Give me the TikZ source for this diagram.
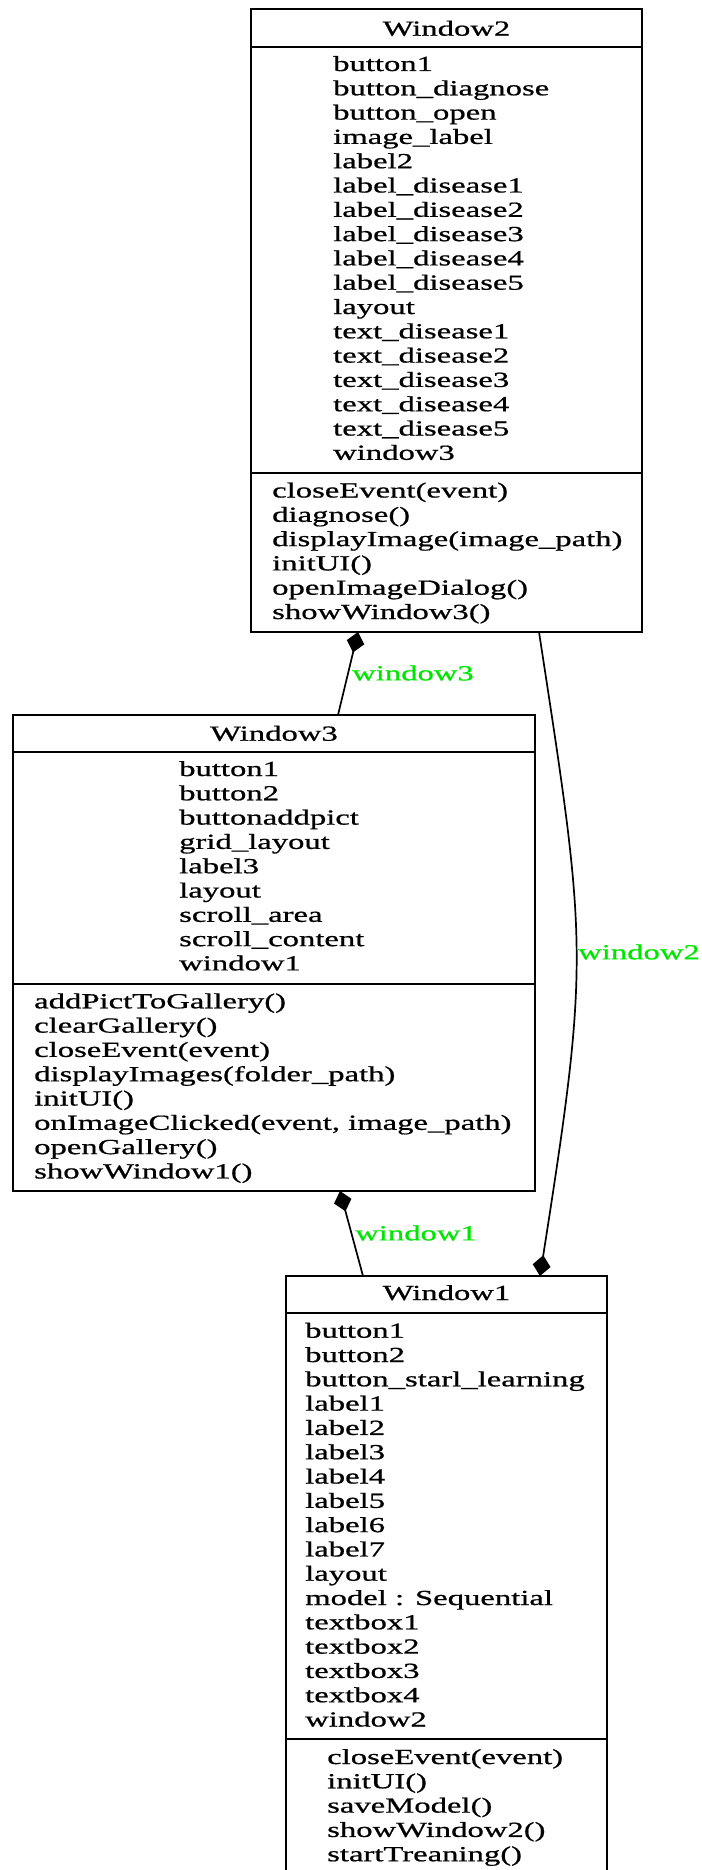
\documentclass[tikz,border=0pt]{standalone}
\usepackage{fontspec}
\newfontfamily\umlface[FakeStretch=1.52,FakeBold=0.8]{Liberation Serif}
\newcommand{\umltext}{\umlface\fontsize{21.5}{24.3}\selectfont}
\usetikzlibrary{arrows.meta,calc}
\definecolor{rolegreen}{RGB}{0,230,0}
\tikzset{owner/.tip={Diamond[length=21pt,width=18pt]}}
\begin{document}
\begin{tikzpicture}[x=1pt,y=-1pt,
  classbox/.style={draw, line width=1.9pt, inner sep=0pt, outer sep=0pt, anchor=north west},
  sepline/.style={line width=1.5pt},
  member/.style={anchor=base west, inner sep=0pt, font=\umltext},
  classname/.style={anchor=base, inner sep=0pt, font=\umltext},
  rolelabel/.style={anchor=west, inner sep=0pt, text=rolegreen, font=\umltext},
  assoc/.style={line width=1.7pt}
]
\useasboundingbox (0,0) rectangle (701,1870);

% ---------- Window2 ----------
\node[classbox, minimum width=391pt, minimum height=623pt] (w2) at (251,9) {};
\draw[sepline] ($(w2.north west)+(0,38)$) -- ($(w2.north east)+(0,38)$);
\draw[sepline] ($(w2.north west)+(0,464)$) -- ($(w2.north east)+(0,464)$);
\node[classname] (w2title) at (446.5,35.7) {Window2};
\foreach \m [count=\i] in {button1, button\_diagnose, button\_open, image\_label, label2,
    label\_disease1, label\_disease2, label\_disease3, label\_disease4, label\_disease5,
    layout, text\_disease1, text\_disease2, text\_disease3, text\_disease4, text\_disease5, window3}
  \node[member] (w2a\i) at (333,{46.7+24.3*\i}) {\m};
\foreach \m [count=\i] in {closeEvent(event), diagnose(), displayImage(image\_path),
    initUI(), openImageDialog(), showWindow3()}
  \node[member] (w2m\i) at (272,{473.2+24.3*\i}) {\m};

% ---------- Window3 ----------
\node[classbox, minimum width=522pt, minimum height=476pt] (w3) at (13,715) {};
\draw[sepline] ($(w3.north west)+(0,37)$) -- ($(w3.north east)+(0,37)$);
\draw[sepline] ($(w3.north west)+(0,269)$) -- ($(w3.north east)+(0,269)$);
\node[classname] (w3title) at (274,740.7) {Window3};
\foreach \m [count=\i] in {button1, button2, buttonaddpict, grid\_layout, label3, layout,
    scroll\_area, scroll\_content, window1}
  \node[member] (w3a\i) at (179,{751.7+24.3*\i}) {\m};
\foreach \m [count=\i] in {addPictToGallery(), clearGallery(), closeEvent(event),
    displayImages(folder\_path), initUI(), {onImageClicked(event, image\_path)},
    openGallery(), showWindow1()}
  \node[member] (w3m\i) at (34,{984+24.3*\i}) {\m};

% ---------- Window1 ----------
\node[classbox, minimum width=321pt, minimum height=610pt] (w1) at (286,1276) {};
\draw[sepline] ($(w1.north west)+(0,37)$) -- ($(w1.north east)+(0,37)$);
\draw[sepline] ($(w1.north west)+(0,463)$) -- ($(w1.north east)+(0,463)$);
\node[classname] (w1title) at (446.5,1300) {Window1};
\foreach \m [count=\i] in {button1, button2, button\_starl\_learning, label1, label2, label3,
    label4, label5, label6, label7, layout, model : Sequential, textbox1, textbox2,
    textbox3, textbox4, window2}
  \node[member] (w1a\i) at (305,{1313.4+24.3*\i}) {\m};
\foreach \m [count=\i] in {closeEvent(event), initUI(), saveModel(), showWindow2(),
    startTreaning()}
  \node[member] (w1m\i) at (327,{1739.7+24.3*\i}) {\m};

% ---------- compositions ----------
\draw[assoc, {owner}-] ($(w2.south west)+(107,0)$) -- ($(w3.north west)+(325,0)$);
\node[rolelabel] (r3) at (352,673) {window3};

\draw[assoc, {owner}-] ($(w3.south west)+(327,0)$) -- ($(w1.north west)+(77,0)$);
\node[rolelabel] (r1) at (355,1233) {window1};

\draw[assoc, -{owner}] ($(w2.south west)+(288,0)$)
  .. controls (587,945) and (590,957) .. ($(w1.north west)+(254,0)$);
\node[rolelabel] (r2) at (578,952) {window2};
\end{tikzpicture}
\end{document}
